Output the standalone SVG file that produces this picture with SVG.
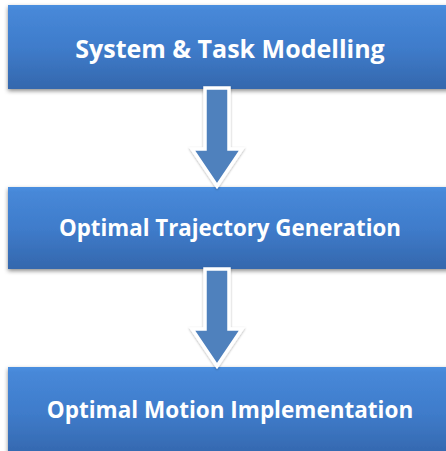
<svg xmlns="http://www.w3.org/2000/svg" width="446" height="451" viewBox="0 0 446 451">
<style>
.box{fill:url(#bg);filter:url(#sh)}
.lbl{fill:#fff;font-family:"Open Sans","Liberation Sans",sans-serif;font-weight:bold;text-anchor:middle}
.arr{fill:#4f81bd;stroke:#fff;stroke-width:3.5;stroke-linejoin:miter;filter:url(#ash)}
</style>
<defs>
<linearGradient id="bg" x1="0" y1="0" x2="0" y2="1">
<stop offset="0" stop-color="#4a8fe0"/>
<stop offset="0.06" stop-color="#4788d8"/>
<stop offset="0.5" stop-color="#3f7ccb"/>
<stop offset="1" stop-color="#3467ad"/>
</linearGradient>
<filter id="sh" x="-10%" y="-10%" width="120%" height="130%">
<feDropShadow dx="0" dy="2" stdDeviation="2" flood-color="#000" flood-opacity="0.45"/>
</filter>
<filter id="ash" x="-30%" y="-10%" width="160%" height="130%">
<feDropShadow dx="0" dy="1" stdDeviation="1.2" flood-color="#000" flood-opacity="0.3"/>
</filter>
</defs>
<rect width="446" height="451" fill="#fff"/>
<g id="n1">
<rect class="box" x="8" y="5" width="450" height="84"/>
<text class="lbl" x="230" y="58" font-size="25">System &amp; Task Modelling</text>
</g>
<g id="n2">
<rect class="box" x="8" y="187" width="450" height="82"/>
<text class="lbl" x="230" y="236" font-size="22.3">Optimal Trajectory Generation</text>
</g>
<g id="n3">
<rect class="box" x="8" y="367" width="450" height="90"/>
<text class="lbl" x="230" y="418" font-size="22.5">Optimal Motion Implementation</text>
</g>
<g id="connectors">
<path class="arr" d="M205,88 H229 V149 H242 L217,186 L192,149 H205 Z"/>
<path class="arr" d="M205,269 H229 V329 H242 L217,366 L192,329 H205 Z"/>
</g>
</svg>
